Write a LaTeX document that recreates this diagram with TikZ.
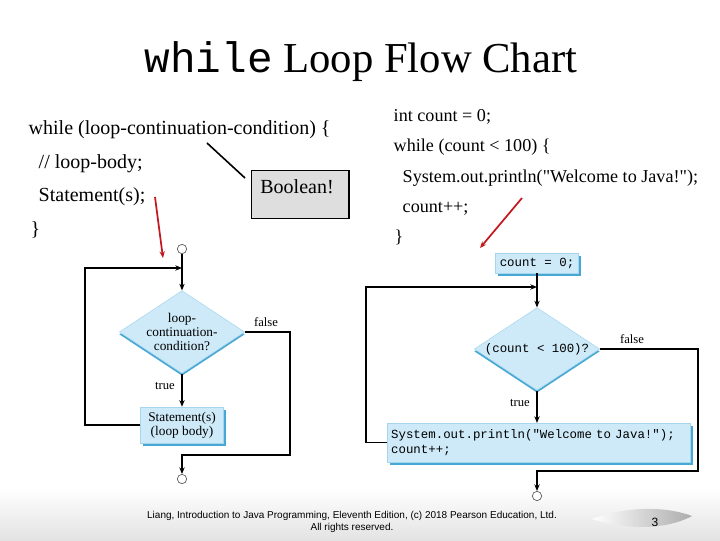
\documentclass[tikz,border=0pt]{standalone}
\usepackage{fontspec}
\setmainfont{Liberation Serif}[Ligatures=TeXOff]
\setmonofont{Liberation Mono}
\setsansfont{Liberation Sans}
\usetikzlibrary{shapes.geometric,arrows.meta,shadows,positioning}
\definecolor{flowblue}{RGB}{206,234,248}
\definecolor{edgeblue}{RGB}{72,168,212}
\definecolor{hintred}{RGB}{196,24,30}
\definecolor{notegray}{RGB}{222,222,222}
\tikzset{
  code/.style={anchor=base west, font=\fontsize{15}{17}\selectfont},
  excode/.style={anchor=base west, font=\fontsize{13.6}{16}\selectfont},
  flow/.style={draw=black, line width=1.2pt},
  flowarrow/.style={flow, -{Stealth[length=5pt,width=4pt]}},
  endpt/.style={circle, draw=gray!70!black, fill=white, minimum size=7pt, inner sep=0pt, line width=0.5pt},
  decision/.style={diamond, fill=flowblue, draw=flowblue!70!edgeblue, inner sep=0pt,
    minimum width=94pt, minimum height=62pt,
    drop shadow={shadow xshift=0pt, shadow yshift=-1.8pt, fill=edgeblue, opacity=1}},
  action/.style={rectangle, fill=flowblue, draw=flowblue!70!edgeblue, line width=0.4pt,
    drop shadow={shadow xshift=2pt, shadow yshift=-2pt, fill=edgeblue, opacity=1}},
  flowtext/.style={font=\fontsize{10}{10.5}\selectfont, align=center},
  flowcode/.style={font=\ttfamily\fontsize{9.3}{11}\selectfont, align=left},
  branch/.style={font=\fontsize{9.5}{11}\selectfont},
  hint/.style={draw=hintred, line width=1.3pt, -{Stealth[length=5pt,width=4pt]}}
}
\begin{document}
\begin{tikzpicture}[x=0.75pt,y=-0.75pt]
    \useasboundingbox (0,0) rectangle (720,540);
    % Footer band
    \shade[top color=white, bottom color=gray!22] (0,488) rectangle (720,540);
    \shade[left color=white, right color=gray!65] (592,519) .. controls (630,505) and (668,507) .. (692,516) .. controls (668,529) and (630,531) .. (592,519) -- cycle;

    % Title
    \node[anchor=base, font=\fontsize{32}{35}\selectfont] (title) at (361,72) {{\ttfamily while} Loop Flow Chart};

    % General form
    \node[code] (gwhile) at (24,134) {while (loop-continuation-condition) \{};
    \node[code] (gbody) at (34,168) {// loop-body;};
    \node[code] (gstmt) at (34,201) {Statement(s);};
    \node[code] (gclose) at (26,235) {\}};
    \node[draw, fill=notegray, line width=1.1pt, anchor=north west, text width=60pt, align=left,
          inner xsep=6.5pt, inner ysep=4pt, text height=13pt, text depth=15pt,
          font=\fontsize{15}{17}\selectfont] (bool) at (251,170) {Boolean!};
    \coordinate (condword) at (207,143);
    \coordinate (boolend) at (245,178);
    \draw[line width=1.2pt] (condword) -- (boolend);

    % Example code
    \node[excode] (eint) at (389,121) {int count = 0;};
    \node[excode] (ewhile) at (389,151) {while (count < 100) \{};
    \node[excode] (eprint) at (398,182) {System.out.println("Welcome to Java!");};
    \node[excode] (eincr) at (398,212) {count++;};
    \node[excode] (eclose) at (390,242) {\}};

    % Pointers to the charts
    \coordinate (lhint) at (155,197);
    \coordinate (lhintend) at (163,258);
    \draw[hint] (lhint) -- (lhintend);
    \coordinate (rhint) at (522,198);
    \coordinate (rhintend) at (480,248);
    \draw[hint] (rhint) -- (rhintend);

    % Left flow chart
    \node[endpt] (ltop) at (182,249) {};
    \node[decision] (lcond) at (182,332) {};
    \node[flowtext] (lcondtext) at (lcond.center) {loop-\\continuation-\\condition?};
    \node[action, minimum width=62pt, minimum height=27pt, flowtext] (lbody) at (182,425) {Statement(s)\\(loop body)};
    \node[endpt] (lend) at (182,479) {};
    \node[branch] (ltrue) at (165,386) {true};
    \node[branch] (lfalse) at (266,322) {false};
    \coordinate (lback) at (85,268);
    \coordinate (lexit) at (290,455);
    \draw[flowarrow] (ltop) -- (lcond.north);
    \draw[flowarrow] (lcond.south) -- (lbody.north);
    \draw[flowarrow] (lbody.west) -| (lback) -- (ltop |- lback);
    \draw[flowarrow] (lcond.east) -| (lexit) -| (lend.north);

    % Right flow chart
    \node[action, minimum width=62pt, minimum height=15pt, inner sep=0pt, flowcode] (rinit) at (537,263) {count = 0;};
    \node[decision] (rcond) at (537,349) {};
    \node[flowcode] (rcondtext) at (rcond.center) {(count < 100)?};
    \node[action, text width=221pt, inner xsep=3pt, minimum height=29pt, flowcode] (rbody) at (538.5,442.5)
        {System.out.println("Welcome to Java!");\\count++;};
    \node[endpt] (rend) at (537,496) {};
    \node[branch] (rtrue) at (520,403) {true};
    \node[branch] (rfalse) at (632,339) {false};
    \coordinate (rback) at (366,287);
    \coordinate (rexit) at (698,471);
    \draw[flowarrow] (rinit.south) -- (rcond.north);
    \draw[flowarrow] (rcond.south) -- (rcond.south |- rbody.north);
    \draw[flowarrow] (rbody.west) -| (rback) -- (rinit.south |- rback);
    \draw[flowarrow] (rcond.east) -| (rexit) -| (rend.north);

    % Footer
    \node[font=\sffamily\fontsize{7.5}{9.5}\selectfont, align=center] (credit) at (352,522)
        {Liang, Introduction to Java Programming, Eleventh Edition, (c) 2018 Pearson Education, Ltd.\\All rights reserved.};
    \node[font=\sffamily\fontsize{9}{10}\selectfont] (pagenum) at (655,522) {3};
\end{tikzpicture}
\end{document}
